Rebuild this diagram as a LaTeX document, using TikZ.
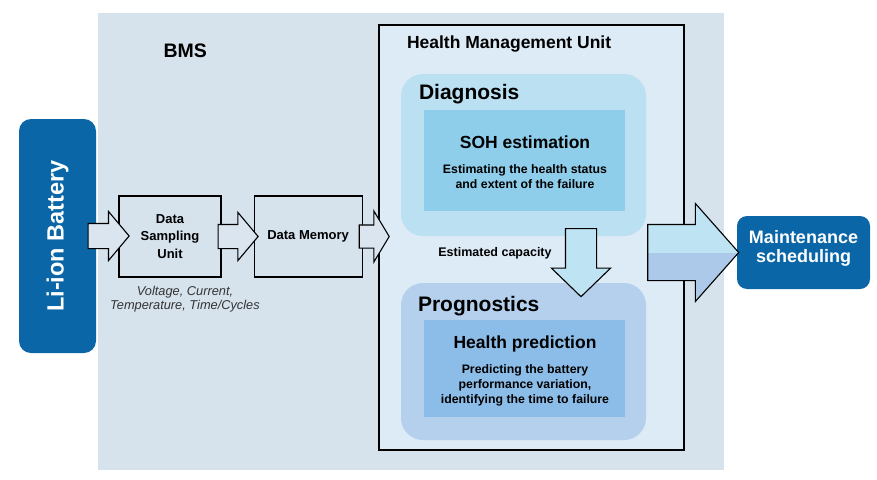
\documentclass[tikz,border=0pt]{standalone}
\usepackage{fontspec}
\setmainfont{Liberation Sans}
\usetikzlibrary{positioning,shapes.arrows,calc}

\definecolor{bmsgrey}{HTML}{D6E2EC}
\definecolor{hmublue}{HTML}{DDEBF7}
\definecolor{diagblue}{HTML}{BAE0F1}
\definecolor{sohblue}{HTML}{8FCEEB}
\definecolor{progblue}{HTML}{B4D0EC}
\definecolor{predblue}{HTML}{8CBDE8}
\definecolor{endblue}{HTML}{0A66A6}
\definecolor{flowgrey}{HTML}{DAE5EF}
\definecolor{capblue}{HTML}{BEE3F2}
\definecolor{lowblue}{HTML}{ACC9E9}

\begin{document}
\begin{tikzpicture}[x=1pt,y=-1pt,line width=1.1pt,
    every node/.style={inner sep=0pt},
    panel/.style={rounded corners=22pt,minimum width=245pt},
    core/.style={minimum width=201pt},
    databox/.style={draw,fill=bmsgrey,minimum height=81pt,align=center,
      font=\fontsize{13}{17.5}\selectfont\bfseries},
    endbox/.style={fill=endblue,text=white,align=center},
    flow/.style={single arrow,draw,single arrow head indent=0pt,fill=flowgrey},
    heading/.style={font=\fontsize{21}{24}\selectfont\bfseries},
    subheading/.style={font=\fontsize{17.5}{20}\selectfont\bfseries},
    note/.style={align=center,font=\fontsize{12.3}{15}\selectfont\bfseries}]
  \useasboundingbox (0,0) rectangle (877,479);

  % BMS and health management unit
  \node[fill=bmsgrey,minimum width=626pt,minimum height=457pt] (bms) at (411,241.5) {};
  \node[anchor=base west,font=\fontsize{19.5}{22}\selectfont\bfseries] (bmslabel) at (163,57) {BMS};
  \node[draw,fill=hmublue,minimum width=305pt,minimum height=425pt] (hmu) at (531.5,237.5) {};
  \node[anchor=base west,font=\fontsize{17.5}{20}\selectfont\bfseries] (hmulabel)
    at ([shift={(28,24)}]hmu.north west) {Health Management Unit};

  % diagnosis
  \node[panel,fill=diagblue,minimum height=162pt] (diag) at (523.5,155) {};
  \node[heading,anchor=base west] (diaglabel) at ([shift={(18,26)}]diag.north west) {Diagnosis};
  \node[core,fill=sohblue,minimum height=101pt] (soh) at (524.5,160.5) {};
  \node[subheading,anchor=base] (sohtitle) at (525,148) {SOH estimation};
  \node[note,anchor=base] (sohtext) at (525,188.3)
    {Estimating the health status\\and extent of the failure};

  % prognostics
  \node[panel,fill=progblue,minimum height=157pt] (prog) at (523.5,361.5) {};
  \node[heading,anchor=base west] (proglabel) at ([shift={(17,29)}]prog.north west) {Prognostics};
  \node[core,fill=predblue,minimum height=97pt] (pred) at (524.5,368.5) {};
  \node[subheading,anchor=base] (predtitle) at (525,348.3) {Health prediction};
  \node[note,anchor=base] (predtext) at (525,403.3)
    {Predicting the battery\\performance variation,\\identifying the time to failure};

  \node[anchor=base,font=\fontsize{12.5}{15}\selectfont\bfseries] (caplabel) at (495,256) {Estimated capacity};

  % battery, acquisition and output
  \node[endbox,rounded corners=12pt,minimum width=77pt,minimum height=234pt] (bat) at (57.5,236) {};
  \node[rotate=90,text=white,font=\fontsize{23.5}{26}\selectfont\bfseries] (batlabel) at (bat.center) {Li-ion Battery};
  \node[databox,minimum width=102pt] (dsu) at (170,236.5) {Data\\Sampling\\Unit};
  \node[databox,minimum width=108pt,right=32pt of dsu] (dmem) {Data Memory};
  \node[anchor=base,align=center,text=black!80,font=\fontsize{12.8}{14}\selectfont\itshape] (signals)
    at (185,309) {Voltage, Current,\\Temperature, Time/Cycles};
  \node[endbox,rounded corners=10pt,minimum width=133pt,minimum height=73pt] (maint) at (803.5,252.5) {};
  \node[anchor=base,align=center,text=white,font=\fontsize{18}{19}\selectfont\bfseries] (maintlabel)
    at ([yshift=-9.5pt]maint.center) {Maintenance\\scheduling};

  % block arrows
  \node[flow,anchor=tail,inner ysep=12pt,single arrow head extend=12pt,minimum height=41pt,
    single arrow tip angle=100] (a1) at ([xshift=-9pt]bat.east) {};
  \node[flow,anchor=tail,inner ysep=11.5pt,single arrow head extend=12pt,minimum height=40pt,
    single arrow tip angle=100] (a2) at ([xshift=-4pt]dsu.east) {};
  \node[flow,anchor=tail,inner ysep=11pt,single arrow head extend=14pt,minimum height=30pt,
    single arrow tip angle=118] (a3) at ([xshift=-4pt]dmem.east) {};
  \node[flow,fill=capblue,anchor=tip,shape border rotate=270,inner sep=15pt,
    single arrow head extend=14pt,minimum height=68pt,single arrow tip angle=92] (a4)
    at ($(prog.north)+(57.5,15)$) {};
  \node[flow,fill=capblue,anchor=tip,inner ysep=27.5pt,single arrow head extend=21pt,
    minimum height=91pt,single arrow tip angle=97,
    path picture={\fill[lowblue] (path picture bounding box.west) rectangle
      (path picture bounding box.south east);}] (a5) at ([xshift=3pt]maint.west) {};
\end{tikzpicture}
\end{document}
